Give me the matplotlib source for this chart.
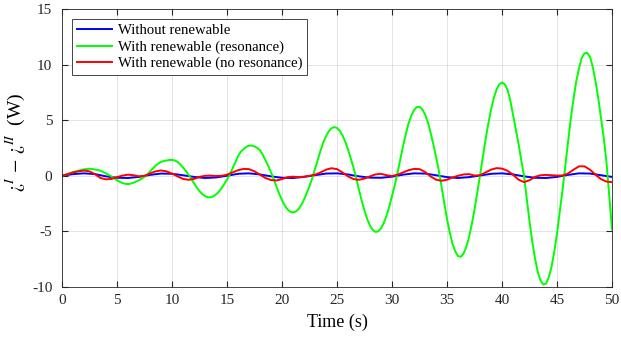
import numpy as np
import matplotlib
matplotlib.use("Agg")
import matplotlib.pyplot as plt

plt.rcParams['font.family'] = ['Liberation Serif', 'DejaVu Serif']
plt.rcParams['mathtext.fontset'] = 'stix'
plt.rcParams['axes.unicode_minus'] = False

# time axis (s)
t_green = np.arange(0, 50.001, 0.25)
t_red = np.arange(0, 50.001, 0.5)
t_blue = np.arange(0, 50.001, 1.0)

# With renewable (resonance), every 0.25 s
green = [0.0, 0.07, 0.15, 0.24, 0.33, 0.4, 0.47, 0.53, 0.58, 0.61,
         0.63, 0.61, 0.57, 0.52, 0.45, 0.35, 0.22, 0.08, -0.06, -0.24,
         -0.4, -0.54, -0.65, -0.72, -0.75, -0.7, -0.62, -0.52, -0.4, -0.25,
         -0.1, 0.12, 0.39, 0.65, 0.9, 1.1, 1.25, 1.33, 1.38, 1.42,
         1.44, 1.38, 1.25, 1.02, 0.75, 0.45, 0.1, -0.25, -0.67, -1.05,
         -1.38, -1.64, -1.83, -1.93, -1.94, -1.85, -1.68, -1.44, -1.12, -0.74,
         -0.34, 0.1, 0.65, 1.2, 1.75, 2.15, 2.4, 2.6, 2.71, 2.72,
         2.65, 2.5, 2.3, 1.9, 1.4, 0.9, 0.3, -0.28, -0.98, -1.62,
         -2.2, -2.67, -3.01, -3.23, -3.3, -3.22, -3.0, -2.63, -2.15, -1.55,
         -0.92, -0.23, 0.6, 1.46, 2.26, 2.98, 3.56, 4.0, 4.28, 4.38,
         4.3, 4.05, 3.64, 3.06, 2.37, 1.58, 0.74, -0.21, -1.26, -2.25,
         -3.14, -3.9, -4.48, -4.87, -5.05, -5.0, -4.74, -4.25, -3.6, -2.78,
         -1.83, -0.85, 0.25, 1.48, 2.66, 3.73, 4.68, 5.4, 5.91, 6.18,
         6.21, 5.98, 5.53, 4.85, 3.92, 2.87, 1.72, 0.5, -0.94, -2.45,
         -3.87, -5.1, -6.1, -6.8, -7.22, -7.29, -7.0, -6.42, -5.53, -4.38,
         -3.05, -1.55, 0.0, 1.64, 3.2, 4.66, 5.93, 6.98, 7.75, 8.23,
         8.39, 8.23, 7.75, 6.8, 5.5, 4.2, 2.9, 1.4, 0.0, -2.09,
         -4.1, -5.9, -7.43, -8.63, -9.41, -9.78, -9.69, -9.15, -8.2, -6.85,
         -5.2, -3.26, -1.3, 0.88, 3.0, 5.1, 6.9, 8.5, 9.67, 10.6,
         11.02, 11.05, 10.7, 9.8, 8.5, 7.0, 5.2, 3.4, 1.2, -1.8,
         -4.8]

# With renewable (no resonance), every 0.5 s
red = [0.0, 0.15, 0.3, 0.4, 0.47, 0.4, 0.15, -0.2, -0.32, -0.28,
       -0.12, 0.02, 0.1, 0.05, -0.05, 0.0, 0.2, 0.4, 0.48, 0.4,
       0.2, -0.05, -0.28, -0.36, -0.28, -0.1, 0.0, 0.02, -0.02, 0.0,
       0.1, 0.3, 0.5, 0.62, 0.6, 0.4, 0.1, -0.2, -0.38, -0.42,
       -0.3, -0.12, -0.08, -0.12, -0.08, 0.0, 0.1, 0.3, 0.55, 0.68,
       0.6, 0.3, -0.05, -0.3, -0.36, -0.25, -0.05, 0.12, 0.18, 0.05,
       -0.02, 0.1, 0.3, 0.5, 0.62, 0.6, 0.35, -0.05, -0.35, -0.45,
       -0.35, -0.15, 0.0, 0.12, 0.15, 0.02, 0.05, 0.3, 0.55, 0.69,
       0.65, 0.45, 0.1, -0.35, -0.57, -0.4, -0.1, 0.05, 0.08, 0.05,
       0.02, 0.03, 0.2, 0.55, 0.85, 0.85, 0.55, 0.1, -0.3, -0.52, -0.57]

# Without renewable, every 1 s
blue = [0.0, 0.15, 0.22, 0.15, -0.05, -0.18, -0.2, -0.1, 0.08, 0.2,
        0.18, 0.05, -0.1, -0.2, -0.15, 0.0, 0.18, 0.22, 0.12, -0.05,
        -0.18, -0.2, -0.1, 0.05, 0.2, 0.22, 0.12, -0.05, -0.17, -0.18,
        -0.08, 0.1, 0.22, 0.2, 0.05, -0.12, -0.2, -0.12, 0.02, 0.18,
        0.22, 0.12, -0.05, -0.18, -0.2, -0.1, 0.08, 0.22, 0.2, 0.05, -0.1]

fig = plt.figure(figsize=(6.21, 3.41), dpi=100)
ax = fig.add_axes([0.0998, 0.1584, 0.8857, 0.8152])

ax.plot(t_blue, blue, color=(0, 0, 1), lw=1.4, label='Without renewable')
ax.plot(t_green, green, color=(0, 1, 0), lw=1.4, label='With renewable (resonance)')
ax.plot(t_red, red, color=(1, 0, 0), lw=1.4, label='With renewable (no resonance)')

ax.set_xlim(0, 50)
ax.set_ylim(-10, 15)
ax.set_xticks(np.arange(0, 51, 5))
ax.set_yticks(np.arange(-10, 16, 5))
ax.grid(True, color=(0.15, 0.15, 0.15), alpha=0.15, lw=0.6)
ax.tick_params(direction='in', top=True, right=True, labelsize=11,
               colors=(0.15, 0.15, 0.15), length=4)
ax.tick_params(axis='x', pad=5)
ax.tick_params(axis='y', pad=7)
for s in ax.spines.values():
    s.set_color((0.15, 0.15, 0.15))
    s.set_linewidth(0.6)

ax.set_xlabel('Time (s)', fontsize=13, labelpad=5)
ax.set_ylabel(r'$¿^{I}\,-\,¿^{II}$  (W)', fontsize=14)
ax.yaxis.set_label_coords(-0.063, 0.52)

leg = ax.legend(loc='upper left', fontsize=10.6, fancybox=False,
                edgecolor=(0.15, 0.15, 0.15), framealpha=1,
                handlelength=2.4, handletextpad=0.35, borderpad=0.35,
                labelspacing=0.2, borderaxespad=0,
                bbox_to_anchor=(0.018, 0.964))
leg.get_frame().set_linewidth(0.6)

fig.savefig('out.png', dpi=100)
